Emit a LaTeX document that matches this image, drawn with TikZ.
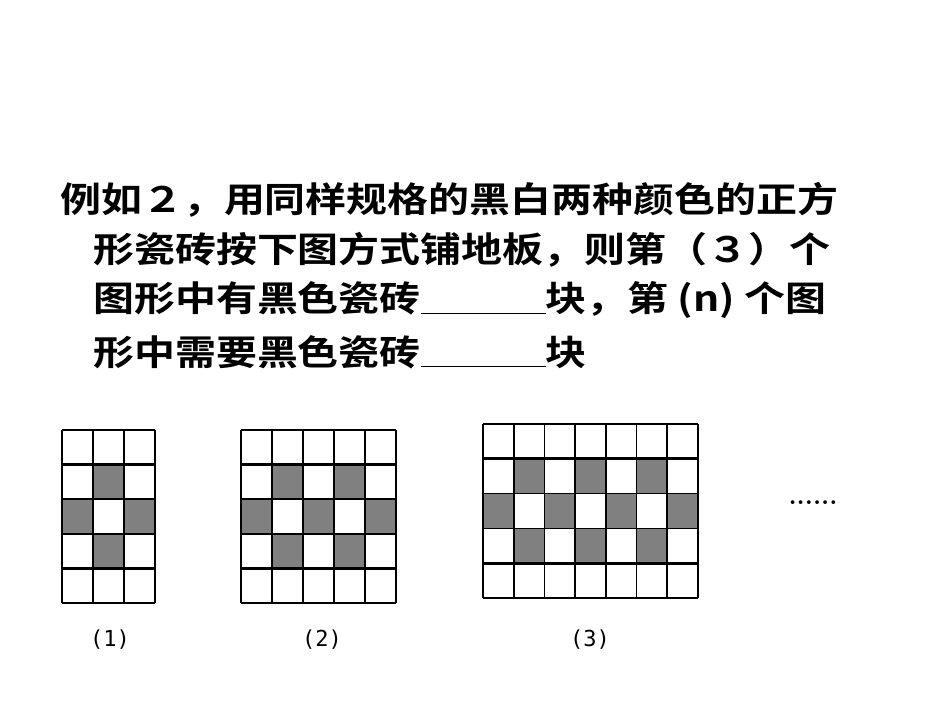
\documentclass[tikz,border=0pt]{standalone}
\usepackage{fontspec}
\usepackage{graphicx}
\newfontfamily\cjk{Noto Sans CJK SC Bold}
\newfontfamily\mono{DejaVu Sans Mono}
\newcommand\widetxt[1]{\scalebox{1.17}[1]{#1}}
\begin{document}
\begin{tikzpicture}[x=1pt,y=-1pt,
  txt/.style={anchor=west,inner sep=0pt,font=\cjk\fontsize{35}{35}\selectfont},
  lab/.style={font=\mono\fontsize{22}{22}\selectfont},
  grid/.style={line width=1.6pt},
  thick line/.style={line width=3pt}]
\useasboundingbox (0,0) rectangle (950,713);
\node[txt] (l1) at (60,200) {\widetxt{例如２，用同样规格的黑白两种颜色的正方}};
\node[txt] (l2) at (93,250) {\widetxt{形瓷砖按下图方式铺地板，则第（３）个}};
\node[txt] (l3) at (93,300) {\widetxt{图形中有黑色瓷砖\underline{\hspace{3.05em}}块，第 (n) 个图}};
\node[txt] (l4) at (93,352) {\widetxt{形中需要黑色瓷砖\underline{\hspace{3.05em}}块}};
\foreach \n/\xo/\yo/\w/\h in {3/62/430/31/34.6, 5/241/430/31/34.6, 7/483/424/30.7/34.8}{
  \foreach \c in {1,...,\n}{
    \pgfmathtruncatemacro\odd{mod(\c,2)}
    \ifnum\odd=0
      \fill[black!50] (\xo+\c*\w-\w,\yo+\h) rectangle ++(\w,\h);
      \fill[black!50] (\xo+\c*\w-\w,\yo+3*\h) rectangle ++(\w,\h);
    \else
      \fill[black!50] (\xo+\c*\w-\w,\yo+2*\h) rectangle ++(\w,\h);
    \fi
  }
  \foreach \c in {0,...,\n} \draw[grid] (\xo+\c*\w,\yo) -- ++(0,5*\h);
  \foreach \r in {0,2,3,5} \draw[grid] (\xo,\yo+\r*\h) -- ++(\n*\w,0);
  \foreach \r in {1,4} \draw[thick line] (\xo,\yo+\r*\h) -- ++(\n*\w,0);
}
\node[lab] (p1) at (110,640) {(1)};
\node[lab] (p2) at (322,640) {(2)};
\node[lab] (p3) at (590,640) {(3)};
\node[font=\bfseries\fontsize{26}{26}\selectfont] (dots) at (813,503) {......};
\end{tikzpicture}
\end{document}
